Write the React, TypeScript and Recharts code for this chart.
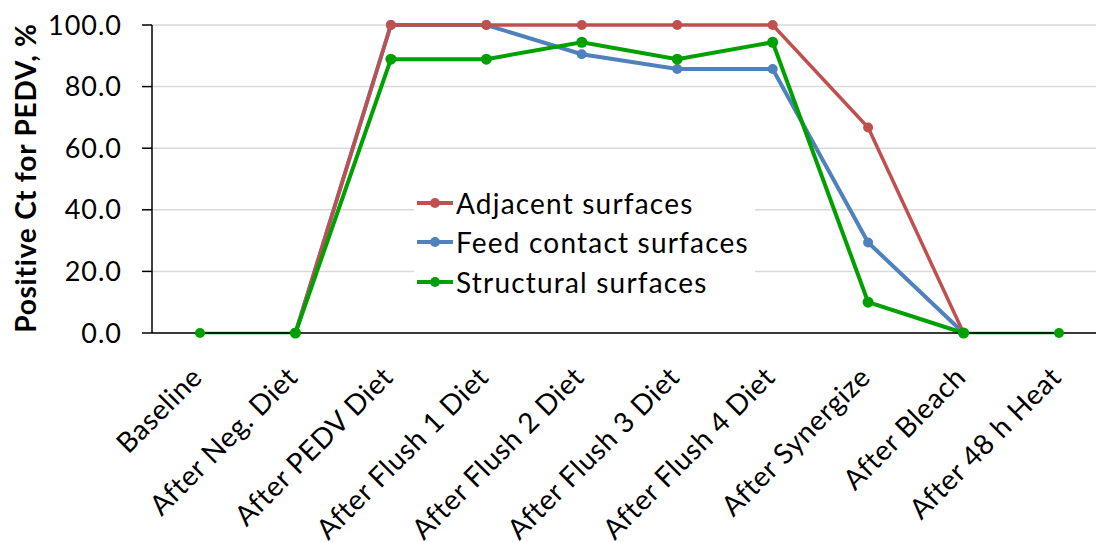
import React from 'react';
import { LineChart, Line, XAxis, YAxis, CartesianGrid, Legend } from 'recharts';

const categories = [
  'Baseline', 'After Neg. Diet', 'After PEDV Diet', 'After Flush 1 Diet', 'After Flush 2 Diet',
  'After Flush 3 Diet', 'After Flush 4 Diet', 'After Synergize', 'After Bleach', 'After 48 h Heat',
];
const adjacent = [null, 0, 100, 100, 100, 100, 100, 66.7, 0, null];
const feedContact = [null, 0, 100, 100, 90.5, 85.7, 85.7, 29.4, 0, null];
const structural = [null, 0, 88.9, 88.9, 94.4, 88.9, 94.4, 10.0, 0, null];
const structuralEnds = [0, 0, null, null, null, null, null, null, 0, 0];
const yTicks = [0, 20, 40, 60, 80, 100];

const seriesInfo = [
  { name: 'Adjacent surfaces', color: '#C0504D' },
  { name: 'Feed contact surfaces', color: '#4F81BD' },
  { name: 'Structural surfaces', color: '#00A000' },
];

const data = categories.map((c, i) => ({
  cat: c,
  adjacent: adjacent[i],
  feed: feedContact[i],
  structural: structural[i],
  ends: structuralEnds[i],
}));

const FONT = 'Lato, "Open Sans", sans-serif';

const XTick = (props: any) => {
  const { x, y, payload } = props;
  return (
    <text
      transform={`translate(${x + 4},${y + 38}) rotate(-45)`}
      textAnchor="end"
      fontSize={28}
      letterSpacing={0.6}
      fontFamily={FONT}
      fill="#000"
    >
      {payload.value}
    </text>
  );
};

const LegendContent = () => (
  <div style={{ background: '#fff', padding: '2px 6px 2px 2px', fontFamily: FONT }}>
    {seriesInfo.map((s) => (
      <div key={s.name} style={{ display: 'flex', alignItems: 'center', height: 39.5 }}>
        <svg width={38} height={20} style={{ marginRight: 2 }}>
          <line x1={1} y1={10} x2={37} y2={10} stroke={s.color} strokeWidth={4} />
          <circle cx={19} cy={10} r={5} fill={s.color} />
        </svg>
        <span style={{ fontSize: 28, letterSpacing: 1.2, color: '#000', whiteSpace: 'nowrap' }}>{s.name}</span>
      </div>
    ))}
  </div>
);

const YLabel = () => (
  <text
    transform="translate(36,178) rotate(-90)"
    textAnchor="middle"
    fontSize={28}
    letterSpacing={0.8}
    fontWeight="bold"
    fontFamily={FONT}
    fill="#000"
  >
    Positive Ct for PEDV, %
  </text>
);

export default function App() {
  return (
    <div style={{ position: 'absolute', left: 0, top: 0, width: 1096, height: 542, overflow: 'hidden', background: '#fff' }}>
      <LineChart
        width={1115}
        height={542}
        data={data}
        margin={{ top: 25, right: 8, left: 0, bottom: 0 }}
      >
        <CartesianGrid horizontal vertical={false} stroke="#D9D9D9" strokeWidth={1.5} />
        <XAxis
          dataKey="cat"
          interval={0}
          tickLine={false}
          padding={{ left: 48, right: 48 }}
          axisLine={{ stroke: '#000', strokeWidth: 1.5 }}
          height={209}
          tick={<XTick />}
        />
        <YAxis
          width={152}
          domain={[0, 100]}
          ticks={yTicks}
          tickFormatter={(v: number) => v.toFixed(1)}
          tickSize={10}
          tickMargin={20}
          axisLine={{ stroke: '#000', strokeWidth: 1.5 }}
          tickLine={{ stroke: '#000', strokeWidth: 1.5 }}
          tick={{ fontSize: 27, fontFamily: FONT, fill: '#000', letterSpacing: 1 }}
          label={<YLabel />}
        />
        <Legend
          layout="vertical"
          align="center"
          verticalAlign="middle"
          wrapperStyle={{ left: 414, top: 181, width: 'auto', height: 'auto' }}
          content={<LegendContent />}
        />
        <Line
          dataKey="ends"
          stroke="#00A000"
          strokeWidth={2.5}
          dot={{ r: 5, fill: '#00A000', stroke: '#00A000', strokeWidth: 0 }}
          legendType="none"
          isAnimationActive={false}
          connectNulls={false}
        />
        <Line
          dataKey="feed"
          name="Feed contact surfaces"
          stroke="#4F81BD"
          strokeWidth={4}
          dot={{ r: 5, fill: '#4F81BD', stroke: '#4F81BD', strokeWidth: 0 }}
          isAnimationActive={false}
        />
        <Line
          dataKey="adjacent"
          name="Adjacent surfaces"
          stroke="#C0504D"
          strokeWidth={3.5}
          dot={{ r: 5, fill: '#C0504D', stroke: '#C0504D', strokeWidth: 0 }}
          isAnimationActive={false}
        />
        <Line
          dataKey="structural"
          name="Structural surfaces"
          stroke="#00A000"
          strokeWidth={4}
          dot={{ r: 5.5, fill: '#00A000', stroke: '#00A000', strokeWidth: 0 }}
          isAnimationActive={false}
        />
      </LineChart>
    </div>
  );
}
